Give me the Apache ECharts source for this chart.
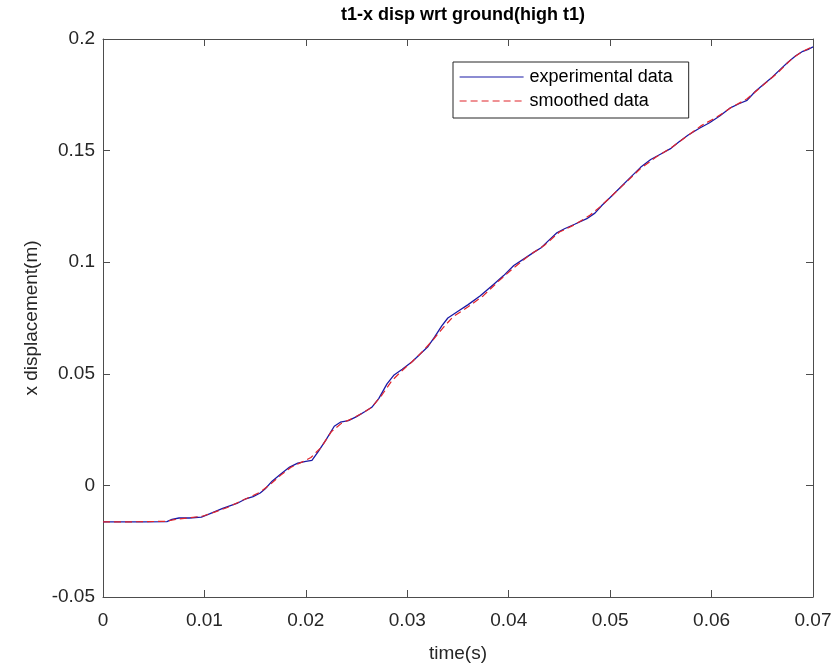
<!DOCTYPE html>
<html>
<head>
<meta charset="utf-8">
<title>t1-x disp wrt ground(high t1)</title>
<script src="https://cdn.jsdelivr.net/npm/echarts@6/dist/echarts.min.js"></script>
<style>
  html, body { margin: 0; padding: 0; background: #ffffff; }
  #chart { width: 839px; height: 671px; }
</style>
</head>
<body>
<div id="chart"></div>
<script>
// Time samples (s) and x displacement (m) of the measured trace
const expTime = [0, 0.002, 0.004, 0.0063, 0.0068, 0.0075, 0.0085, 0.0097, 0.0105, 0.0118,
  0.0125, 0.0132, 0.0140, 0.0148, 0.0155, 0.0160, 0.0167, 0.0175, 0.0184, 0.0192,
  0.0200, 0.0206, 0.0212, 0.0220, 0.0228, 0.0234, 0.0242, 0.0250, 0.0258, 0.0265,
  0.0272, 0.0280, 0.0287, 0.0295, 0.0305, 0.0313, 0.0320, 0.0327, 0.0334, 0.0340,
  0.0350, 0.0360, 0.0372, 0.0385, 0.0395, 0.0405, 0.0415, 0.0425, 0.0432, 0.0440,
  0.0447, 0.0455, 0.0465, 0.0477, 0.0485, 0.0492, 0.0500, 0.0510, 0.0520, 0.0530,
  0.0540, 0.0550, 0.0560, 0.0568, 0.0577, 0.0588, 0.0598, 0.0608, 0.0618, 0.0627,
  0.0635, 0.0643, 0.0652, 0.0660, 0.0668, 0.0675, 0.0683, 0.0690, 0.0696, 0.0700];
const expDisp = [-0.0163, -0.0163, -0.0163, -0.0162, -0.0152, -0.0146, -0.0146, -0.0142, -0.0128, -0.0103,
  -0.0092, -0.0081, -0.0062, -0.0050, -0.0034, -0.0015, 0.0020, 0.0050, 0.0082, 0.0100,
  0.0108, 0.0112, 0.0150, 0.0205, 0.0265, 0.0283, 0.0290, 0.0308, 0.0330, 0.0350,
  0.0390, 0.0455, 0.0495, 0.0520, 0.0555, 0.0590, 0.0620, 0.0665, 0.0715, 0.0750,
  0.0780, 0.0810, 0.0850, 0.0900, 0.0940, 0.0985, 0.1015, 0.1045, 0.1065, 0.1100,
  0.1130, 0.1150, 0.1170, 0.1195, 0.1220, 0.1255, 0.1290, 0.1335, 0.1380, 0.1425,
  0.1460, 0.1485, 0.1510, 0.1540, 0.1570, 0.1600, 0.1625, 0.1655, 0.1690, 0.1710,
  0.1725, 0.1765, 0.1800, 0.1830, 0.1865, 0.1895, 0.1925, 0.1945, 0.1955, 0.1965];

// Smoothed trace
const smoothTime = [0, 0.003, 0.0062, 0.0072, 0.0085, 0.0098, 0.0110, 0.0122, 0.0135, 0.0145,
  0.0155, 0.0165, 0.0175, 0.0185, 0.0195, 0.0205, 0.0215, 0.0225, 0.0235, 0.0245,
  0.0255, 0.0265, 0.0275, 0.0285, 0.0295, 0.0305, 0.0315, 0.0325, 0.0335, 0.0345,
  0.0360, 0.0375, 0.0390, 0.0405, 0.0420, 0.0435, 0.0450, 0.0465, 0.0480, 0.0490,
  0.0500, 0.0515, 0.0530, 0.0545, 0.0560, 0.0575, 0.0590, 0.0605, 0.0620, 0.0635,
  0.0650, 0.0665, 0.0680, 0.0690, 0.0700];
const smoothDisp = [-0.0163, -0.0163, -0.0161, -0.0152, -0.0145, -0.0138, -0.0120, -0.0100, -0.0072, -0.0052,
  -0.0030, 0.0005, 0.0045, 0.0080, 0.0102, 0.0125, 0.0170, 0.0240, 0.0278, 0.0298,
  0.0322, 0.0350, 0.0405, 0.0470, 0.0515, 0.0555, 0.0600, 0.0650, 0.0705, 0.0755,
  0.0800, 0.0850, 0.0915, 0.0975, 0.1030, 0.1075, 0.1135, 0.1168, 0.1210, 0.1248,
  0.1290, 0.1355, 0.1420, 0.1470, 0.1512, 0.1562, 0.1612, 0.1650, 0.1695, 0.1732,
  0.1790, 0.1848, 0.1915, 0.1945, 0.1967];

// Axis ranges and tick spacing
const xRange = [0, 0.07];
const xStep = 0.01;
const yRange = [-0.05, 0.2];
const yStep = 0.05;

const seriesNames = ['experimental data', 'smoothed data'];

const pairs = (xs, ys) => xs.map((x, i) => [x, ys[i]]);

const ink = '#262626';
const frame = '#4d4d4d';
const font = '"Liberation Sans", Arial, Helvetica, sans-serif';

const chart = echarts.init(document.getElementById('chart'), null, { renderer: 'canvas' });

const tickStyle = { show: true, inside: true, length: 7, lineStyle: { color: frame, width: 1 } };

chart.setOption({
  backgroundColor: '#ffffff',
  animation: false,
  title: {
    text: 't1-x disp wrt ground(high t1)',
    left: 458, top: 1, textAlign: 'center',
    textStyle: { fontFamily: font, fontSize: 18, fontWeight: 'bold', color: '#000000' }
  },
  grid: { left: 103, right: 26, top: 39, bottom: 74, containLabel: false },
  legend: {
    data: [
      { name: seriesNames[0] },
      { name: seriesNames[1] }
    ],
    orient: 'vertical',
    left: 453, top: 62,
    padding: [6, 16, 8, 6],
    itemGap: 6,
    itemWidth: 64,
    itemHeight: 14,
    borderColor: ink, borderWidth: 1, borderRadius: 0,
    backgroundColor: '#ffffff',
    itemStyle: { opacity: 0, borderWidth: 0 },
    lineStyle: { width: 1.2 },
    textStyle: { fontFamily: font, fontSize: 18, color: '#000000', padding: [0, 0, 0, 1] },
    selectedMode: false
  },
  xAxis: [{
    type: 'value', min: xRange[0], max: xRange[1], interval: xStep,
    name: 'time(s)', nameLocation: 'middle', nameGap: 47,
    nameTextStyle: { fontFamily: font, fontSize: 19, color: ink },
    axisLine: { show: true, onZero: false, lineStyle: { color: frame, width: 1 } },
    axisTick: tickStyle,
    axisLabel: { fontFamily: font, fontSize: 19, color: ink, margin: 14 },
    splitLine: { show: false }
  }, {
    type: 'value', position: 'top', min: xRange[0], max: xRange[1], interval: xStep,
    axisLine: { show: true, onZero: false, lineStyle: { color: frame, width: 1 } },
    axisTick: tickStyle, axisLabel: { show: false }, splitLine: { show: false }
  }],
  yAxis: [{
    type: 'value', min: yRange[0], max: yRange[1], interval: yStep,
    name: 'x displacement(m)', nameLocation: 'middle', nameGap: 57,
    nameTextStyle: { fontFamily: font, fontSize: 19, color: ink },
    axisLine: { show: true, onZero: false, lineStyle: { color: frame, width: 1 } },
    axisTick: tickStyle,
    axisLabel: { fontFamily: font, fontSize: 19, color: ink, margin: 8 },
    splitLine: { show: false }
  }, {
    type: 'value', position: 'right', min: yRange[0], max: yRange[1], interval: yStep,
    axisLine: { show: true, onZero: false, lineStyle: { color: frame, width: 1 } },
    axisTick: tickStyle, axisLabel: { show: false }, splitLine: { show: false }
  }],
  series: [{
    name: seriesNames[0],
    type: 'line',
    data: pairs(expTime, expDisp),
    showSymbol: false, symbol: 'none',
    lineStyle: { color: '#1a1aa6', width: 1.3 },
    itemStyle: { color: '#1a1aa6' },
    z: 2
  }, {
    name: seriesNames[1],
    type: 'line',
    data: pairs(smoothTime, smoothDisp),
    showSymbol: false, symbol: 'none',
    lineStyle: { color: '#e0242b', width: 1.2, type: [7, 4] },
    itemStyle: { color: '#e0242b' },
    z: 3
  }]
});
</script>
</body>
</html>
